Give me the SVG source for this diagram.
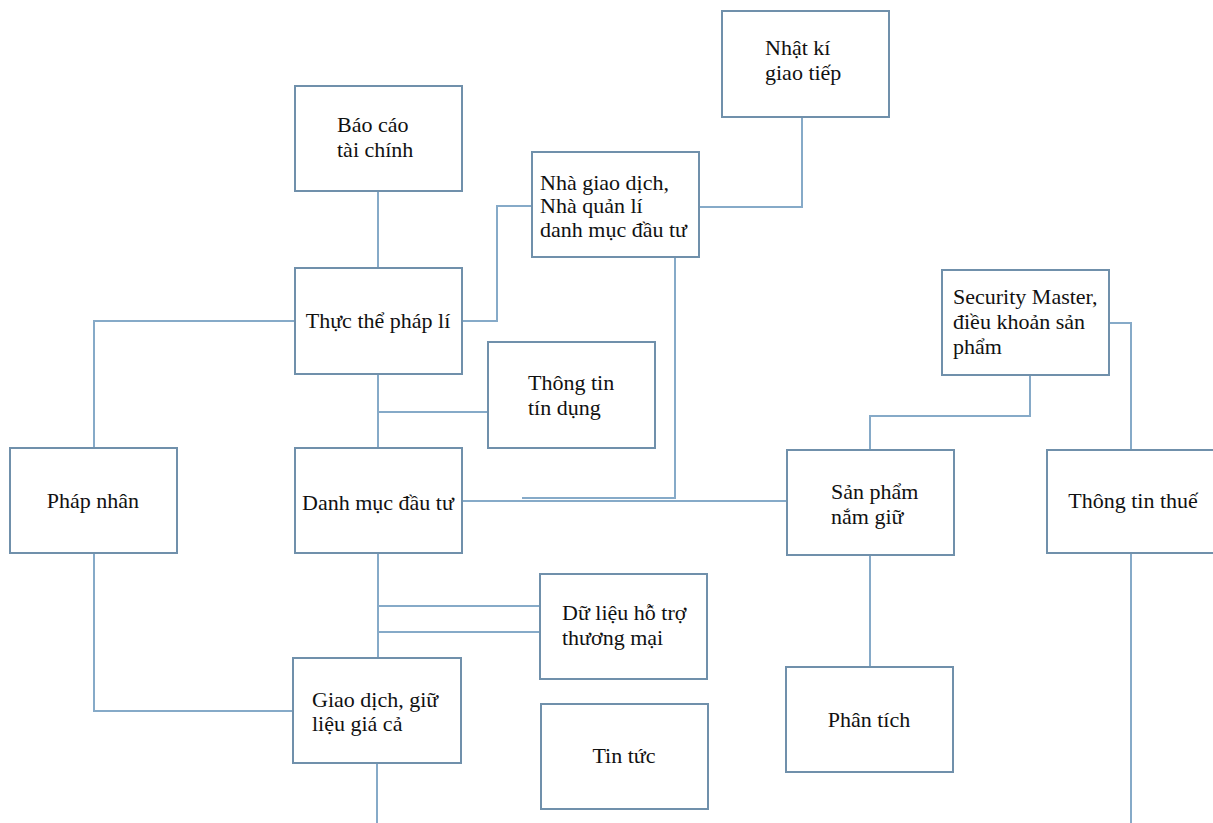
<svg xmlns="http://www.w3.org/2000/svg" width="1213" height="823" viewBox="0 0 1213 823">
  <style>
    .box { fill: #ffffff; stroke: #7090ab; stroke-width: 2; }
    .wire { fill: none; stroke: #86aac8; stroke-width: 2; }
    .lbl { font-family: "Liberation Serif", "Times New Roman", serif; font-size: 22px; fill: #111111; }
  </style>
  <rect width="1213" height="823" fill="#ffffff"/>

  <!-- connectors -->
  <g id="connectors">
    <!-- Báo cáo tài chính → Thực thể pháp lí -->
    <path class="wire" d="M378 191 V268"/>
    <!-- Thực thể pháp lí → Nhà giao dịch -->
    <path class="wire" d="M462 321 H497 V206 H532"/>
    <!-- Nhà giao dịch → Nhật kí giao tiếp -->
    <path class="wire" d="M699 207 H802 V117"/>
    <!-- Thực thể pháp lí → Pháp nhân -->
    <path class="wire" d="M295 321 H94 V448"/>
    <!-- Thực thể pháp lí → Danh mục đầu tư -->
    <path class="wire" d="M378 374 V448"/>
    <path class="wire" d="M378 374 V412" stroke-width="3"/>
    <!-- → Thông tin tín dụng -->
    <path class="wire" d="M378 412 H488"/>
    <!-- Nhà giao dịch → Danh mục đầu tư -->
    <path class="wire" d="M675 257 V498 H522"/>
    <!-- Danh mục đầu tư → Sản phẩm nắm giữ -->
    <path class="wire" d="M462 501 H787"/>
    <!-- Danh mục đầu tư → Giao dịch, giữ liệu giá cả -->
    <path class="wire" d="M378 553 V658"/>
    <!-- → Dữ liệu hỗ trợ thương mại -->
    <path class="wire" d="M378 606 H540"/>
    <path class="wire" d="M378 632 H540"/>
    <!-- Pháp nhân → Giao dịch, giữ liệu giá cả -->
    <path class="wire" d="M94 553 V711 H293"/>
    <!-- Giao dịch, giữ liệu giá cả continues downward -->
    <path class="wire" d="M377 763 V823"/>
    <!-- Security Master → Sản phẩm nắm giữ -->
    <path class="wire" d="M1030 375 V416 H870 V450"/>
    <!-- Security Master → Thông tin thuế -->
    <path class="wire" d="M1109 323 H1131 V450"/>
    <!-- Sản phẩm nắm giữ → Phân tích -->
    <path class="wire" d="M870 555 V667"/>
    <!-- Thông tin thuế continues downward -->
    <path class="wire" d="M1131 553 V823"/>
  </g>

  <!-- nodes -->
  <g id="bao-cao-tai-chinh">
    <rect class="box" x="295" y="86" width="167" height="105"/>
    <text class="lbl" x="337" y="132">Báo cáo</text>
    <text class="lbl" x="337" y="157">tài chính</text>
  </g>
  <g id="nha-giao-dich">
    <rect class="box" x="532" y="152" width="167" height="105"/>
    <text class="lbl" x="540" y="190">Nhà giao dịch,</text>
    <text class="lbl" x="540" y="213">Nhà quản lí</text>
    <text class="lbl" x="540" y="237">danh mục đầu tư</text>
  </g>
  <g id="nhat-ki-giao-tiep">
    <rect class="box" x="722" y="11" width="167" height="106"/>
    <text class="lbl" x="765" y="55">Nhật kí</text>
    <text class="lbl" x="765" y="80">giao tiếp</text>
  </g>
  <g id="thuc-the-phap-li">
    <rect class="box" x="295" y="268" width="167" height="106"/>
    <text class="lbl" x="378" y="328" text-anchor="middle">Thực thể pháp lí</text>
  </g>
  <g id="thong-tin-tin-dung">
    <rect class="box" x="488" y="342" width="167" height="106"/>
    <text class="lbl" x="528" y="390">Thông tin</text>
    <text class="lbl" x="528" y="415">tín dụng</text>
  </g>
  <g id="security-master">
    <rect class="box" x="942" y="270" width="167" height="105"/>
    <text class="lbl" x="953" y="304">Security Master,</text>
    <text class="lbl" x="953" y="329">điều khoản sản</text>
    <text class="lbl" x="953" y="354">phẩm</text>
  </g>
  <g id="phap-nhan">
    <rect class="box" x="10" y="448" width="167" height="105"/>
    <text class="lbl" x="93" y="508" text-anchor="middle">Pháp nhân</text>
  </g>
  <g id="danh-muc-dau-tu">
    <rect class="box" x="295" y="448" width="167" height="105"/>
    <text class="lbl" x="378" y="510" text-anchor="middle">Danh mục đầu tư</text>
  </g>
  <g id="san-pham-nam-giu">
    <rect class="box" x="787" y="450" width="167" height="105"/>
    <text class="lbl" x="831" y="499">Sản phẩm</text>
    <text class="lbl" x="831" y="524">nắm giữ</text>
  </g>
  <g id="thong-tin-thue">
    <rect class="box" x="1047" y="450" width="167" height="103"/>
    <text class="lbl" x="1133" y="508" text-anchor="middle">Thông tin thuế</text>
  </g>
  <g id="du-lieu-ho-tro">
    <rect class="box" x="540" y="574" width="167" height="105"/>
    <text class="lbl" x="562" y="620">Dữ liệu hỗ trợ</text>
    <text class="lbl" x="562" y="645">thương mại</text>
  </g>
  <g id="giao-dich-gia-ca">
    <rect class="box" x="293" y="658" width="168" height="105"/>
    <text class="lbl" x="312" y="707">Giao dịch, giữ</text>
    <text class="lbl" x="312" y="731">liệu giá cả</text>
  </g>
  <g id="tin-tuc">
    <rect class="box" x="541" y="704" width="167" height="105"/>
    <text class="lbl" x="624" y="763" text-anchor="middle">Tin tức</text>
  </g>
  <g id="phan-tich">
    <rect class="box" x="786" y="667" width="167" height="105"/>
    <text class="lbl" x="869" y="727" text-anchor="middle">Phân tích</text>
  </g>
</svg>
